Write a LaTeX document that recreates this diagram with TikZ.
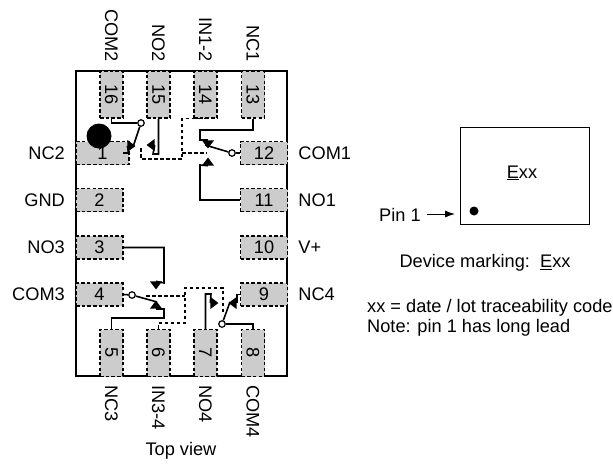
\documentclass[tikz,border=0pt]{standalone}
\usepackage{fontspec}
\setmainfont{Liberation Sans}
\usetikzlibrary{shapes.geometric,arrows.meta}
\tikzset{
    pindash/.style={draw,dash pattern=on 3.5pt off 2.2pt,line width=1.5pt,fill=black!20,inner sep=0},
    pinv/.style={pindash,minimum width=23,minimum height=47},
    pinh/.style={pindash,minimum width=47,minimum height=23},
    wire/.style={line width=1.6pt},
    ctrl/.style={line width=1.4pt,dash pattern=on 3.5pt off 2.5pt},
    pole/.style={draw,circle,line width=1.2pt,fill=white,minimum size=6.5,inner sep=0},
    contact/.style={isosceles triangle,isosceles triangle stretches,fill=black,minimum width=12,minimum height=8,inner sep=0,anchor=apex},
    lbl/.style={font=\fontsize{18.2}{20}\selectfont,inner sep=0},
}
\begin{document}
\begin{tikzpicture}[x=1pt,y=-1pt]
    \useasboundingbox (0,0) rectangle (613,466);
    % package
    \draw[line width=1.8pt] (76,71) rectangle (287,376);
    % pins
    \foreach \n/\x in {16/111.5,15/158.5,14/205.5,13/253}
        \node[pinv,lbl] (p\n) at (\x,94.5) {\rotatebox{-90}{\n}};
    \foreach \n/\x in {5/111.5,6/158.5,7/205.5,8/253}
        \node[pinv,lbl] (p\n) at (\x,353) {\rotatebox{-90}{\n}};
    \foreach \n/\y in {2/200,3/247.5,4/294.5}
        \node[pinh,lbl] (p\n) at (99.5,\y) {\n};
    \node[pinh,lbl,minimum width=53] (p1) at (102.5,153) {1\hspace{6pt}};
    \foreach \n/\y in {12/153,11/200,10/247.5,9/294.5}
        \node[pinh,lbl] (p\n) at (264,\y) {\n};
    % pin names
    \foreach \n/\t in {16/COM2,15/NO2,14/IN1-2,13/NC1}
        \node[lbl,rotate=-90,anchor=east] (t\n) at ([yshift=8]p\n.north) {\t};
    \foreach \n/\t in {5/NC3,6/IN3-4,7/NO4,8/COM4}
        \node[lbl,rotate=-90,anchor=west] (t\n) at ([yshift=-8]p\n.south) {\t};
    \foreach \n/\y/\t in {1/153/NC2,2/200/GND,3/247.5/NO3,4/294.5/COM3}
        \node[lbl,anchor=east] (t\n) at (65,\y) {\t};
    \foreach \n/\t in {12/COM1,11/NO1,10/V+,9/NC4}
        \node[lbl,anchor=west] (t\n) at ([xshift=10]p\n.east) {\t};
    \node[lbl] (tv) at (181,451) {Top view};
    % pin 1 mark
    \node[circle,fill=black,minimum size=25,inner sep=0] (mark) at (99,136) {};
    % switch 1-2
    \node[pole] (s1) at (141,123) {};
    \node[contact] (c1) at (136,146) {};
    \node[contact,shape border rotate=180] (c2) at (146,145) {};
    \coordinate (a1) at (133,147);
    \draw[wire] (p16.south) |- (s1);
    \draw[wire] (s1) -- (a1);
    \draw[wire] (123,153) -- (129,153) -- (c1.lower side);
    \draw[wire] (p15.south) |- (153,154) -- (c2.lower side);
    % switch 3-4
    \node[pole] (s2) at (232,153) {};
    \node[contact,shape border rotate=-90] (c3) at (208,149) {};
    \node[contact,shape border rotate=90] (c4) at (208,157) {};
    \coordinate (a2) at (205,145);
    \draw[wire] (p12.west) -- (s2);
    \draw[wire] (s2) -- (a2);
    \draw[wire] (p13.south) |- (200,130) |- (c3.lower side);
    \draw[wire] (p11.west) -| (200,165) -- (c4.lower side);
    % switch 5-6
    \node[pole] (s3) at (132,295) {};
    \node[contact,shape border rotate=-90] (c5) at (156,290) {};
    \node[contact,shape border rotate=90] (c6) at (156,300) {};
    \coordinate (a3) at (157,302);
    \draw[wire] (p4.east) -- (s3);
    \draw[wire] (s3) -- (a3);
    \draw[wire] (p3.east) -| (164,283) -- (c5.lower side);
    \draw[wire] (p5.north) |- (164,318) |- (c6.lower side);
    % switch 7-8
    \node[pole] (s4) at (222,324) {};
    \node[contact] (c7) at (219,303) {};
    \node[contact,shape border rotate=180] (c8) at (228,303) {};
    \coordinate (a4) at (230,302);
    \draw[wire] (p8.north) |- (s4);
    \draw[wire] (s4) -- (a4);
    \draw[wire] (p7.north) |- (211,294) -- (c7.lower side);
    \draw[wire] (p9.west) -| (c8.lower side);
    % control lines
    \coordinate (d1) at (141,148);
    \coordinate (d2) at (207,153);
    \coordinate (d3) at (146,296);
    \coordinate (d4) at (223,314);
    \draw[ctrl] (d1) |- (182,159) |- (p14.south);
    \draw[ctrl] (182,153) -- (d2);
    \draw[ctrl] (p6.north) |- (185,323) |- (223,288) -- (d4);
    \draw[ctrl] (d3) -- (185,296);
    % device marking
    \node[draw,line width=1pt,minimum width=129,minimum height=97,inner sep=0] (dev) at (524.5,175.5) {};
    \node[lbl] (tx) at (522,173) {\underline{E}xx};
    \node[circle,fill=black,minimum size=9,inner sep=0] (dot) at (474,211) {};
    \node[lbl,anchor=west] (tp) at (379,215) {Pin 1};
    \coordinate (ar) at (455,214);
    \draw[-{Latex[length=10pt,width=7pt]},line width=0.9pt] (427,214) -- (ar);
    \node[lbl] (tm) at (485,263) {Device marking:\ \ \underline{E}xx};
    \node[lbl,anchor=west] (tc) at (367,308) {xx = date / lot traceability code};
    \node[lbl,anchor=west] (tn) at (367,328) {Note: pin 1 has long lead};
\end{tikzpicture}
\end{document}
